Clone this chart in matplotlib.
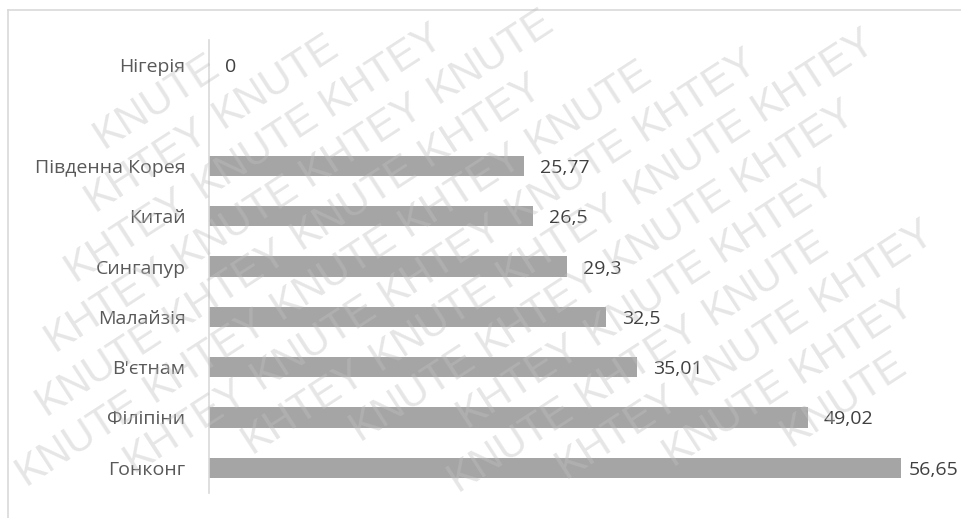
import math
import matplotlib
matplotlib.use("Agg")
import matplotlib.pyplot as plt

# Categories listed bottom to top; the blank entry keeps an empty slot
countries = ["Гонконг", "Філіпіни", "В'єтнам", "Малайзія", "Сингапур",
             "Китай", "Південна Корея", "", "Нігерія"]
values = [56.65, 49.02, 35.01, 32.5, 29.3, 26.5, 25.77, None, 0]
value_labels = ["56,65", "49,02", "35,01", "32,5", "29,3", "26,5", "25,77", None, "0"]
watermark_words = ["KHTEY", "KNUTE"]

FONT = ["Open Sans", "DejaVu Sans"]
WM_FONT = ["Liberation Sans", "DejaVu Sans"]
TEXT_COLOR = "#595959"
BAR_COLOR = "#a5a5a5"
W, H = 961, 518

fig = plt.figure(figsize=(W / 100, H / 100), dpi=100)
fig.patch.set_facecolor("white")

# Chart frame (top and left edges visible)
fig.add_artist(plt.Line2D([8 / W, 1.0], [1 - 10 / H, 1 - 10 / H],
                          color="#d9d9d9", lw=1.2, transform=fig.transFigure))
fig.add_artist(plt.Line2D([8 / W, 8 / W], [0.0, 1 - 10 / H],
                          color="#d9d9d9", lw=1.2, transform=fig.transFigure))

ax = fig.add_axes([209 / W, 25 / H, (942 - 209) / W, (493 - 40) / H])
ax.set_facecolor("none")

positions = list(range(len(countries)))
bar_vals = [v if v is not None else 0 for v in values]
ax.barh(positions, bar_vals, height=0.4, color=BAR_COLOR, zorder=2)

ax.set_xlim(0, 60)
ax.set_ylim(-0.5, len(countries) - 0.5)

ax.set_yticks(positions)
ax.set_yticklabels(countries, fontsize=14, color=TEXT_COLOR, family=FONT)
ax.tick_params(axis="y", length=0, pad=17)
ax.set_xticks([])

for side in ["top", "right", "bottom"]:
    ax.spines[side].set_visible(False)
ax.spines["left"].set_color("#d9d9d9")
ax.spines["left"].set_linewidth(1.2)

renderer = fig.canvas.get_renderer()

# Value labels to the right of each bar, pulled inward if they would run off
for y, v, lab in zip(positions, values, value_labels):
    if lab is None:
        continue
    ann = ax.annotate(lab, xy=(v, y), xytext=(16, -2), textcoords="offset pixels",
                      ha="left", va="center", fontsize=14, color="#404040",
                      family=FONT, zorder=3, annotation_clip=False)
    bb = ann.get_window_extent(renderer)
    overflow = bb.x1 - (W - 3)
    if overflow > 0:
        ann.set_position((16 - min(overflow, 8), -2))

# Diagonal watermark tiled across the figure, keeping only whole words
theta = math.radians(33)
ux, uy = math.cos(theta), math.sin(theta)
px, py = -math.sin(theta), math.cos(theta)
word_step = 152.0
row_step = 48.0
for r in range(-20, 20):
    for k in range(-12, 16):
        d_along = k * word_step + (r % 3) * 55.0
        x0 = -200 + d_along * ux + r * row_step * px
        y0 = 0 + d_along * uy + r * row_step * py
        word = watermark_words[k % 2]
        t = fig.text(x0 / W, y0 / H, word, rotation=33, fontsize=30,
                     family=WM_FONT, color="#c0c0c0", alpha=0.4,
                     ha="left", va="baseline", rotation_mode="anchor",
                     zorder=5)
        bb = t.get_window_extent(renderer)
        if bb.x0 < 0 or bb.y0 < 0 or bb.x1 > W or bb.y1 > H:
            t.remove()

fig.savefig("out.png", dpi=100, facecolor="white")
